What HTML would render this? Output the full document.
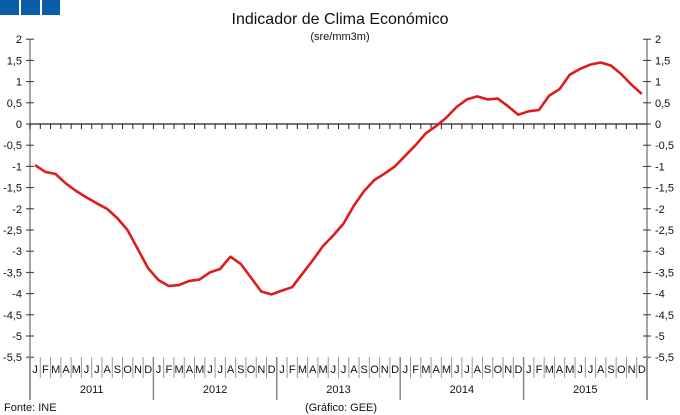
<!DOCTYPE html>
<html><head><meta charset="utf-8"><style>
body{margin:0;background:#fff;}
svg{display:block;font-family:"Liberation Sans",sans-serif;}
</style></head><body>
<svg id="s" width="680" height="415" xmlns="http://www.w3.org/2000/svg">
<rect x="0" y="0" width="19" height="15" fill="#0a5ea8"/>
<rect x="21" y="0" width="19" height="15" fill="#0a5ea8"/>
<rect x="42" y="0" width="18" height="15" fill="#0a5ea8"/>
<text x="340" y="24" font-size="16" text-anchor="middle" fill="#111">Indicador de Clima Económico</text>
<text x="340" y="40" font-size="11" text-anchor="middle" fill="#111">(sre/mm3m)</text>
<text x="4" y="411" font-size="11" fill="#111">Fonte: INE</text>
<text x="341" y="411" font-size="11" text-anchor="middle" fill="#111">(Gráfico: GEE)</text>
<g id="g"></g>
</svg>
<script>
var g=document.getElementById('g'),h='';
var L=30,R=647,y0=124,k=42.4;
function Y(v){return y0-v*k;}
h+='<line x1="'+L+'" y1="39" x2="'+L+'" y2="400" stroke="#888" stroke-width="1.5"/>';
h+='<line x1="'+R+'" y1="39" x2="'+R+'" y2="400" stroke="#888" stroke-width="1.5"/>';
for(var i=0;i<=15;i++){var v=2-i*0.5,y=Y(v);var t=(v+'').replace('.',',');
h+='<line x1="'+(L-4)+'" y1="'+y+'" x2="'+(L+4)+'" y2="'+y+'" stroke="#333"/>';
h+='<line x1="'+(R-4)+'" y1="'+y+'" x2="'+(R+4)+'" y2="'+y+'" stroke="#333"/>';
h+='<text x="'+(L-8)+'" y="'+(y+4)+'" font-size="11" text-anchor="end" fill="#111">'+t+'</text>';
h+='<text x="'+(R+8)+'" y="'+(y+4)+'" font-size="11" fill="#111">'+t+'</text>';}
h+='<line x1="'+L+'" y1="'+y0+'" x2="'+R+'" y2="'+y0+'" stroke="#222" stroke-width="1.2"/>';
var w=(R-L)/60,M='JFMAMJJASOND';
for(var i=0;i<60;i++){var x=L+i*w;
h+='<line x1="'+x+'" y1="'+y0+'" x2="'+x+'" y2="'+(y0+5)+'" stroke="#222"/>';
if(i%12) h+='<line x1="'+x+'" y1="357" x2="'+x+'" y2="378" stroke="#999"/>';
h+='<text x="'+(x+w/2)+'" y="373" font-size="11" text-anchor="middle" fill="#111">'+M[i%12]+'</text>';}
for(var j=0;j<=5;j++){var x=L+j*12*w;h+='<line x1="'+x+'" y1="357" x2="'+x+'" y2="400" stroke="#888" stroke-width="1.5"/>';
if(j<5)h+='<text x="'+(x+6*w)+'" y="393" font-size="11" text-anchor="middle" fill="#111">'+(2011+j)+'</text>';}
var d=[-0.97,-1.13,-1.18,-1.4,-1.58,-1.73,-1.87,-2.0,-2.22,-2.5,-2.95,-3.4,
-3.68,-3.82,-3.8,-3.7,-3.67,-3.5,-3.42,-3.13,-3.3,-3.62,-3.95,-4.02,
-3.93,-3.85,-3.53,-3.22,-2.88,-2.63,-2.35,-1.93,-1.58,-1.32,-1.17,-1.0,
-0.75,-0.5,-0.22,-0.05,0.15,0.4,0.58,0.65,0.58,0.6,0.42,0.22,
0.3,0.33,0.67,0.82,1.16,1.3,1.4,1.45,1.38,1.18,0.93,0.71];
var p='';for(var i=0;i<60;i++)p+=(i?'L':'M')+(L+5+i*w).toFixed(1)+' '+Y(d[i]).toFixed(1);
h+='<path d="'+p+'" fill="none" stroke="#dd1c1c" stroke-width="2.6" stroke-linejoin="round"/>';
g.innerHTML=h;
</script>
</body></html>
